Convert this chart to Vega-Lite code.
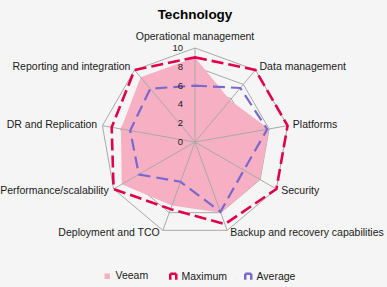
{
  "$schema": "https://vega.github.io/schema/vega-lite/v6.json",
  "width": 188,
  "height": 188,
  "autosize": {"type": "none"},
  "padding": {"left": 101, "top": 48, "right": 98, "bottom": 51},
  "background": "#f5f5f5",
  "config": {"view": {"stroke": null}, "font": "Liberation Sans"},
  "title": {"text": "Technology", "fontSize": 13.5, "fontWeight": "bold", "font": "Liberation Sans", "color": "#000000", "anchor": "middle", "offset": -1, "baseline": "alphabetic"},
  "datasets": {
    "scores": [
      {"series": "Veeam", "axis": "Operational management", "value": 9},
      {"series": "Veeam", "axis": "Data management", "value": 5.8},
      {"series": "Veeam", "axis": "Platforms", "value": 8},
      {"series": "Veeam", "axis": "Security", "value": 8},
      {"series": "Veeam", "axis": "Backup and recovery capabilities", "value": 8},
      {"series": "Veeam", "axis": "Deployment and TCO", "value": 7.2},
      {"series": "Veeam", "axis": "Performance/scalability", "value": 9},
      {"series": "Veeam", "axis": "DR and Replication", "value": 8},
      {"series": "Veeam", "axis": "Reporting and integration", "value": 9},
      {"series": "Maximum", "axis": "Operational management", "value": 9},
      {"series": "Maximum", "axis": "Data management", "value": 10},
      {"series": "Maximum", "axis": "Platforms", "value": 10},
      {"series": "Maximum", "axis": "Security", "value": 10},
      {"series": "Maximum", "axis": "Backup and recovery capabilities", "value": 9.3},
      {"series": "Maximum", "axis": "Deployment and TCO", "value": 7.6},
      {"series": "Maximum", "axis": "Performance/scalability", "value": 10},
      {"series": "Maximum", "axis": "DR and Replication", "value": 9},
      {"series": "Maximum", "axis": "Reporting and integration", "value": 10},
      {"series": "Average", "axis": "Operational management", "value": 6},
      {"series": "Average", "axis": "Data management", "value": 7.5},
      {"series": "Average", "axis": "Platforms", "value": 7.8},
      {"series": "Average", "axis": "Security", "value": 6},
      {"series": "Average", "axis": "Backup and recovery capabilities", "value": 7.9},
      {"series": "Average", "axis": "Deployment and TCO", "value": 4.5},
      {"series": "Average", "axis": "Performance/scalability", "value": 6.9},
      {"series": "Average", "axis": "DR and Replication", "value": 7},
      {"series": "Average", "axis": "Reporting and integration", "value": 7.4}
    ],
    "levels": [{"level": 0}, {"level": 2}, {"level": 4}, {"level": 6}, {"level": 8}, {"level": 10}]
  },
  "layer": [
    {
      "data": {"name": "levels"},
      "transform": [
        {"filter": "datum.level > 0"},
        {"calculate": "[0,1,2,3,4,5,6,7,8]", "as": "spokes"},
        {"flatten": ["spokes"], "as": ["j"]},
        {"calculate": "datum.j * 2 * PI / 9", "as": "a"},
        {"calculate": "datum.level * sin(datum.a)", "as": "gx"},
        {"calculate": "datum.level * cos(datum.a)", "as": "gy"}
      ],
      "mark": {"type": "line", "interpolate": "linear-closed", "stroke": "#a9a9a9", "strokeWidth": 1},
      "encoding": {
        "x": {"field": "gx", "type": "quantitative", "scale": {"domain": [-10, 10], "nice": false, "zero": false}, "axis": null},
        "y": {"field": "gy", "type": "quantitative", "scale": {"domain": [-10, 10], "nice": false, "zero": false}, "axis": null},
        "detail": {"field": "level", "type": "nominal"},
        "order": {"field": "j", "type": "quantitative"}
      }
    },
    {
      "data": {"name": "scores"},
      "transform": [
        {"filter": "datum.series === 'Veeam'"},
        {"window": [{"op": "row_number", "as": "k"}]},
        {"calculate": "(datum.k - 1) * 2 * PI / 9", "as": "a"},
        {"calculate": "datum.value * sin(datum.a)", "as": "x"},
        {"calculate": "datum.value * cos(datum.a)", "as": "y"}
      ],
      "mark": {"type": "line", "interpolate": "linear-closed", "filled": true, "strokeWidth": 0},
      "encoding": {
        "x": {"field": "x", "type": "quantitative"},
        "y": {"field": "y", "type": "quantitative"},
        "order": {"field": "k", "type": "quantitative"},
        "fill": {
          "field": "series", "type": "nominal",
          "scale": {"domain": ["Veeam"], "range": ["#f7afc4"]},
          "legend": {
            "orient": "none", "legendX": 1, "legendY": 223, "direction": "horizontal", "title": null,
            "labelFontSize": 10.5, "labelFont": "Liberation Sans", "labelColor": "#1a1a1a",
            "symbolType": "square", "symbolSize": 30, "symbolStrokeWidth": 0, "labelOffset": 3, "padding": 0
          }
        }
      }
    },
    {
      "data": {"name": "scores"},
      "transform": [
        {"filter": "datum.series === 'Maximum'"},
        {"window": [{"op": "row_number", "as": "k"}]},
        {"calculate": "(datum.k - 1) * 2 * PI / 9", "as": "a"},
        {"calculate": "10 * sin(datum.a)", "as": "sx"},
        {"calculate": "10 * cos(datum.a)", "as": "sy"}
      ],
      "mark": {"type": "rule", "stroke": "#a9a9a9", "strokeWidth": 1},
      "encoding": {
        "x": {"field": "sx", "type": "quantitative"},
        "y": {"field": "sy", "type": "quantitative"},
        "x2": {"datum": 0},
        "y2": {"datum": 0}
      }
    },
    {
      "data": {"name": "scores"},
      "transform": [
        {"filter": "datum.series === 'Average'"},
        {"window": [{"op": "row_number", "as": "k"}]},
        {"calculate": "(datum.k - 1) * 2 * PI / 9", "as": "a"},
        {"calculate": "datum.value * sin(datum.a)", "as": "x"},
        {"calculate": "datum.value * cos(datum.a)", "as": "y"}
      ],
      "mark": {"type": "line", "interpolate": "linear-closed", "strokeWidth": 2.2, "strokeDash": [12, 6]},
      "encoding": {
        "x": {"field": "x", "type": "quantitative"},
        "y": {"field": "y", "type": "quantitative"},
        "order": {"field": "k", "type": "quantitative"},
        "stroke": {
          "field": "series", "type": "nominal",
          "scale": {"domain": ["Maximum", "Average"], "range": ["#e0004e", "#7a68cc"]},
          "legend": {
            "orient": "none", "legendX": 67, "legendY": 223, "direction": "horizontal", "title": null,
            "labelFontSize": 10.5, "labelFont": "Liberation Sans", "labelColor": "#1a1a1a",
            "symbolType": "M-1,1L-1,-1L1,-1L1,1", "symbolSize": 36, "symbolStrokeWidth": 2.5,
            "symbolFillColor": "transparent", "symbolDash": [1, 0],
            "columnPadding": 12, "labelOffset": 3, "padding": 0
          }
        }
      }
    },
    {
      "data": {"name": "scores"},
      "transform": [
        {"filter": "datum.series === 'Maximum'"},
        {"window": [{"op": "row_number", "as": "k"}]},
        {"calculate": "(datum.k - 1) * 2 * PI / 9", "as": "a"},
        {"calculate": "datum.value * sin(datum.a)", "as": "x"},
        {"calculate": "datum.value * cos(datum.a)", "as": "y"}
      ],
      "mark": {"type": "line", "interpolate": "linear-closed", "strokeWidth": 2.6, "strokeDash": [12, 5]},
      "encoding": {
        "x": {"field": "x", "type": "quantitative"},
        "y": {"field": "y", "type": "quantitative"},
        "order": {"field": "k", "type": "quantitative"},
        "stroke": {"field": "series", "type": "nominal"}
      }
    },
    {
      "data": {"name": "levels"},
      "mark": {"type": "text", "align": "right", "baseline": "middle", "dx": -12, "fontSize": 9.5, "font": "Liberation Sans", "color": "#1a1a1a"},
      "encoding": {
        "x": {"datum": 0},
        "y": {"field": "level", "type": "quantitative"},
        "text": {"field": "level", "type": "quantitative"}
      }
    },
    {
      "data": {"name": "scores"},
      "transform": [
        {"filter": "datum.series === 'Maximum'"},
        {"window": [{"op": "row_number", "as": "k"}]},
        {"calculate": "(datum.k - 1) * 2 * PI / 9", "as": "a"},
        {"calculate": "10.35 * sin(datum.a)", "as": "lx"},
        {"calculate": "10.35 * cos(datum.a)", "as": "ly"},
        {"filter": "sin(datum.a) > 0.1"}
      ],
      "mark": {"type": "text", "align": "left", "baseline": "middle", "dx": 2, "fontSize": 10.5, "font": "Liberation Sans", "color": "#1a1a1a"},
      "encoding": {
        "x": {"field": "lx", "type": "quantitative"},
        "y": {"field": "ly", "type": "quantitative"},
        "text": {"field": "axis", "type": "nominal"}
      }
    },
    {
      "data": {"name": "scores"},
      "transform": [
        {"filter": "datum.series === 'Maximum'"},
        {"window": [{"op": "row_number", "as": "k"}]},
        {"calculate": "(datum.k - 1) * 2 * PI / 9", "as": "a"},
        {"calculate": "10.35 * sin(datum.a)", "as": "lx"},
        {"calculate": "10.35 * cos(datum.a)", "as": "ly"},
        {"filter": "sin(datum.a) < -0.1"}
      ],
      "mark": {"type": "text", "align": "right", "baseline": "middle", "dx": -2, "fontSize": 10.5, "font": "Liberation Sans", "color": "#1a1a1a"},
      "encoding": {
        "x": {"field": "lx", "type": "quantitative"},
        "y": {"field": "ly", "type": "quantitative"},
        "text": {"field": "axis", "type": "nominal"}
      }
    },
    {
      "data": {"name": "scores"},
      "transform": [
        {"filter": "datum.series === 'Maximum'"},
        {"window": [{"op": "row_number", "as": "k"}]},
        {"calculate": "(datum.k - 1) * 2 * PI / 9", "as": "a"},
        {"calculate": "10.35 * sin(datum.a)", "as": "lx"},
        {"calculate": "10.35 * cos(datum.a)", "as": "ly"},
        {"filter": "abs(sin(datum.a)) <= 0.1"}
      ],
      "mark": {"type": "text", "align": "center", "baseline": "bottom", "dy": -3, "fontSize": 10.5, "font": "Liberation Sans", "color": "#1a1a1a"},
      "encoding": {
        "x": {"field": "lx", "type": "quantitative"},
        "y": {"field": "ly", "type": "quantitative"},
        "text": {"field": "axis", "type": "nominal"}
      }
    }
  ]
}
